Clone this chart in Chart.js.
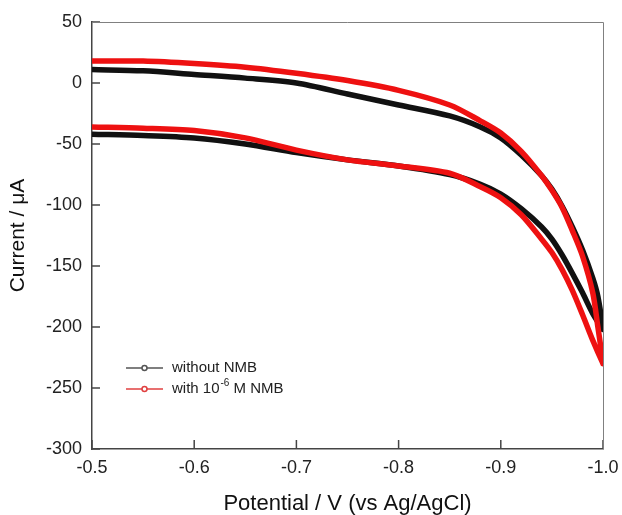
<!DOCTYPE html>
<html>
<head>
<meta charset="utf-8">
<script src="https://cdn.jsdelivr.net/npm/chart.js@4/dist/chart.umd.min.js"></script>
<style>
  html, body { margin: 0; padding: 0; background: #fff; }
  canvas { display: block; }
</style>
</head>
<body>
<canvas id="cv" width="622" height="515"></canvas>
<script>
// potentials (V) for the cathodic sweep, -0.5 -> -1.0
const sweepOut = [-0.50, -0.55, -0.60, -0.65, -0.70, -0.75, -0.80, -0.85, -0.88, -0.90, -0.92, -0.94, -0.95, -0.96, -0.97, -0.98, -0.99, -1.00];
// potentials for the return sweep, -1.0 -> -0.5
const sweepBack = [-1.00, -0.995, -0.99, -0.98, -0.97, -0.96, -0.95, -0.94, -0.92, -0.90, -0.88, -0.85, -0.80, -0.75, -0.70, -0.65, -0.60, -0.55, -0.50];

// current (uA), without NMB
const plainOut  = [-42, -43, -45, -50, -57, -63, -68, -75, -83, -91, -103, -118, -128, -141, -156, -172, -189, -202];
const plainBack = [-201, -175, -160, -137, -118, -101, -87, -76, -59, -45, -36, -27, -18, -9, 0, 4, 7, 10, 11];

// current (uA), with 10^-6 M NMB
const nmbOut  = [-36, -37, -39, -45, -55, -63, -68, -74, -85, -94, -108, -128, -139, -153, -170, -190, -211, -230];
const nmbBack = [-229, -200, -172, -142, -121, -102, -88, -76, -56, -41, -31, -18, -6, 2, 8, 13, 16, 18, 18];

const xTicks = [-0.5, -0.6, -0.7, -0.8, -0.9, -1.0];
const yTicks = [50, 0, -50, -100, -150, -200, -250, -300];

const seriesNames = ['without NMB', 'with 10', '-6', ' M NMB'];

function loop(outV, outI, backV, backI) {
    const pts = outV.map((v, i) => ({ x: v, y: outI[i] }));
    return pts.concat(backV.map((v, i) => ({ x: v, y: backI[i] })));
}

const BLACK = '#111111';
const RED = '#ee1111';
const FONT = '"Liberation Sans", Arial, sans-serif';

// inward ticks, top/right frame and the little legend box
const decorations = {
    id: 'decorations',
    afterDraw(chart) {
        const { ctx, chartArea: a, scales } = chart;
        ctx.save();
        ctx.strokeStyle = '#444';
        ctx.lineWidth = 1.5;
        xTicks.forEach(v => {
            const px = scales.x.getPixelForValue(v);
            ctx.beginPath();
            ctx.moveTo(px, a.bottom);
            ctx.lineTo(px, a.bottom - 9);
            ctx.stroke();
        });
        yTicks.forEach(v => {
            const py = scales.y.getPixelForValue(v);
            ctx.beginPath();
            ctx.moveTo(a.left, py);
            ctx.lineTo(a.left + 8, py);
            ctx.stroke();
        });

        ctx.strokeStyle = '#808080';
        ctx.lineWidth = 1;
        ctx.beginPath();
        ctx.moveTo(a.left, a.top + 0.5);
        ctx.lineTo(a.right + 0.5, a.top + 0.5);
        ctx.lineTo(a.right + 0.5, a.bottom);
        ctx.stroke();

        // legend
        const rows = [
            { y: 368, color: '#555555' },
            { y: 389, color: '#e04040' }
        ];
        rows.forEach(r => {
            ctx.strokeStyle = r.color;
            ctx.lineWidth = 1.5;
            ctx.beginPath();
            ctx.moveTo(126, r.y);
            ctx.lineTo(163, r.y);
            ctx.stroke();
            ctx.fillStyle = '#fff';
            ctx.beginPath();
            ctx.arc(144.5, r.y, 2.5, 0, Math.PI * 2);
            ctx.fill();
            ctx.stroke();
        });
        ctx.fillStyle = '#222';
        ctx.textBaseline = 'middle';
        ctx.textAlign = 'left';
        ctx.font = '15px ' + FONT;
        ctx.fillText(seriesNames[0], 172, rows[0].y);
        let tx = 172;
        ctx.fillText(seriesNames[1], tx, rows[1].y);
        tx += ctx.measureText(seriesNames[1]).width + 1;
        ctx.font = '10px ' + FONT;
        ctx.fillText(seriesNames[2], tx, rows[1].y - 6);
        tx += ctx.measureText(seriesNames[2]).width;
        ctx.font = '15px ' + FONT;
        ctx.fillText(seriesNames[3], tx, rows[1].y);
        ctx.restore();
    }
};

new Chart(document.getElementById('cv'), {
    type: 'scatter',
    data: {
        datasets: [
            {
                label: 'without NMB',
                data: loop(sweepOut, plainOut, sweepBack, plainBack),
                showLine: true,
                borderColor: BLACK,
                borderWidth: 5.5,
                pointRadius: 0,
                tension: 0.3,
                order: 1
            },
            {
                label: 'with 10⁻⁶ M NMB',
                data: loop(sweepOut, nmbOut, sweepBack, nmbBack),
                showLine: true,
                borderColor: RED,
                borderWidth: 5.5,
                pointRadius: 0,
                tension: 0.3,
                order: 0
            }
        ]
    },
    options: {
        responsive: false,
        animation: false,
        layout: { padding: { left: 0, right: 19, top: 22, bottom: 0 } },
        plugins: {
            legend: { display: false },
            tooltip: { enabled: false }
        },
        scales: {
            x: {
                type: 'linear',
                reverse: true,
                min: -1.0,
                max: -0.5,
                afterFit: s => { s.height = 66; s.paddingLeft = 0; s.paddingRight = 0; },
                grid: { display: false, drawTicks: false },
                border: { color: '#444', width: 1.5 },
                ticks: {
                    stepSize: 0.1,
                    maxRotation: 0,
                    padding: 8,
                    color: '#222',
                    font: { family: FONT, size: 18 },
                    callback: v => v.toFixed(1)
                },
                title: {
                    display: true,
                    text: 'Potential / V (vs Ag/AgCl)',
                    color: '#111',
                    font: { family: FONT, size: 22, lineHeight: 1 },
                    padding: { top: 0, bottom: 0 }
                }
            },
            y: {
                min: -300,
                max: 50,
                afterFit: s => { s.width = 92; s.paddingTop = 0; s.paddingBottom = 0; },
                grid: { display: false, drawTicks: false },
                border: { color: '#444', width: 1.5 },
                ticks: {
                    stepSize: 50,
                    padding: 10,
                    color: '#222',
                    font: { family: FONT, size: 18 }
                },
                title: {
                    display: true,
                    text: 'Current / μA',
                    color: '#111',
                    font: { family: FONT, size: 21, lineHeight: 1 },
                    padding: { top: 8, bottom: 0 }
                }
            }
        }
    },
    plugins: [decorations]
});
</script>
</body>
</html>
